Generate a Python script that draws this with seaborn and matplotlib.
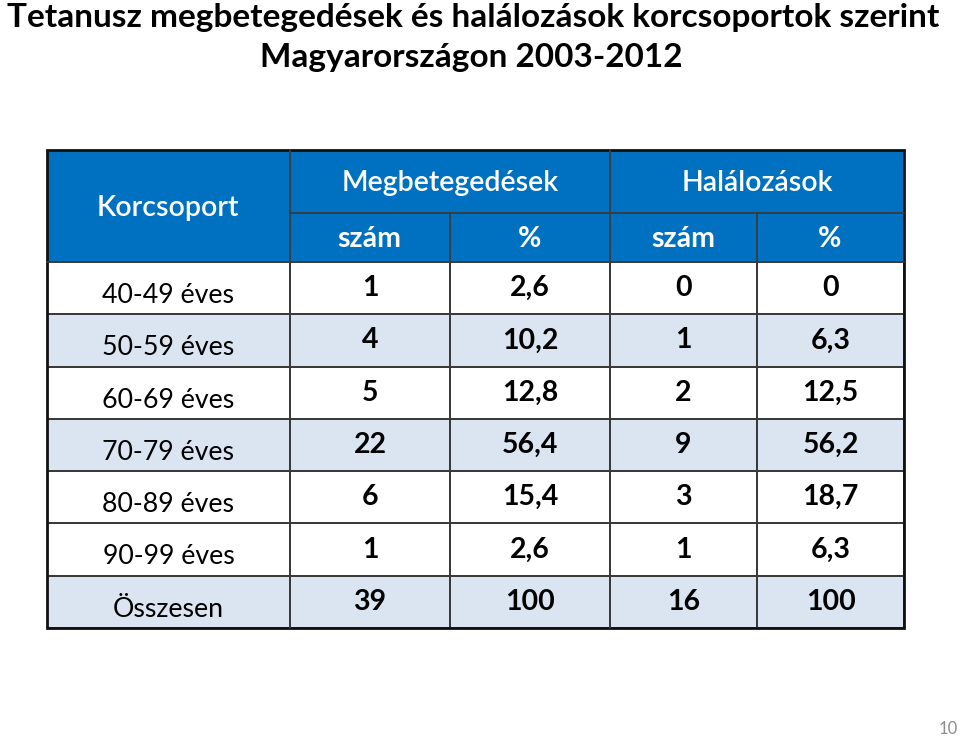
import numpy as np
import matplotlib
matplotlib.use("Agg")
import matplotlib.pyplot as plt
from matplotlib.colors import ListedColormap
from matplotlib.patches import Rectangle
import seaborn as sns

# Adatok
cim_1 = "Tetanusz megbetegedések és halálozások korcsoportok szerint"
cim_2 = "Magyarországon 2003-2012"
korcsoport = ["40-49 éves", "50-59 éves", "60-69 éves", "70-79 éves",
              "80-89 éves", "90-99 éves", "Összesen"]
megbet_szam = [1, 4, 5, 22, 6, 1, 39]
megbet_pct = [2.6, 10.2, 12.8, 56.4, 15.4, 2.6, 100]
halal_szam = [0, 1, 2, 9, 3, 1, 16]
halal_pct = [0, 6.3, 12.5, 56.2, 18.7, 6.3, 100]
sor_szin = [0, 1, 0, 1, 0, 0, 1]   # 1 = világoskék sor
oldalszam = "10"

KEK = "#0070c0"
HALVANY = "#dbe5f1"
VONAL = "#3a3a3a"

sns.set_theme(style="white")
plt.rcParams["font.family"] = ["Lato", "DejaVu Sans"]


def hu(v):
    return f"{v:g}".replace(".", ",")


W, H = 960, 738
fig = plt.figure(figsize=(W / 100, H / 100), dpi=100)
fig.patch.set_facecolor("white")


def px_axes(x0, y0, x1, y1):
    return fig.add_axes([x0 / W, 1 - y1 / H, (x1 - x0) / W, (y1 - y0) / H])


top, bottom = 262, 628
cmap = ListedColormap(["white", HALVANY])
szin = np.array(sor_szin)
szam_kws = {"color": "black", "fontsize": 20.5, "fontweight": "bold"}

# Korcsoport oszlop
ax_a = px_axes(47, top, 290, bottom)
sns.heatmap(szin.reshape(-1, 1), ax=ax_a, cmap=cmap, vmin=0, vmax=1, cbar=False,
            annot=np.array(korcsoport).reshape(-1, 1), fmt="",
            annot_kws={"color": "black", "fontsize": 19.3},
            linewidths=1.3, linecolor=VONAL, xticklabels=False, yticklabels=False)
for t in ax_a.texts:
    x, y = t.get_position()
    t.set_position((x, y + 0.14))

# Megbetegedések
ax_b = px_axes(290, top, 610, bottom)
sns.heatmap(np.column_stack([szin, szin]), ax=ax_b, cmap=cmap, vmin=0, vmax=1, cbar=False,
            annot=np.column_stack([[hu(v) for v in megbet_szam], [hu(v) for v in megbet_pct]]),
            fmt="", annot_kws=szam_kws,
            linewidths=1.3, linecolor=VONAL, xticklabels=False, yticklabels=False)

# Halálozások
ax_c = px_axes(610, top, 904, bottom)
sns.heatmap(np.column_stack([szin, szin]), ax=ax_c, cmap=cmap, vmin=0, vmax=1, cbar=False,
            annot=np.column_stack([[hu(v) for v in halal_szam], [hu(v) for v in halal_pct]]),
            fmt="", annot_kws=szam_kws,
            linewidths=1.3, linecolor=VONAL, xticklabels=False, yticklabels=False)

# Fejléc és keretek pixelkoordinátákban
ov = fig.add_axes([0, 0, 1, 1])
ov.set_xlim(0, W)
ov.set_ylim(H, 0)
ov.axis("off")

ov.add_patch(Rectangle((47, 150), 857, top - 150, facecolor=KEK, edgecolor="none"))
ov.plot([290, 290], [150, bottom], color=VONAL, lw=1.3)
ov.plot([610, 610], [150, bottom], color=VONAL, lw=1.3)
ov.plot([450, 450], [213, top], color=VONAL, lw=1.3)
ov.plot([757, 757], [213, top], color=VONAL, lw=1.3)
ov.plot([290, 904], [213, 213], color=VONAL, lw=1.3)
ov.plot([47, 904], [top, top], color=VONAL, lw=1.3)
ov.add_patch(Rectangle((47, 150), 857, bottom - 150, facecolor="none",
                       edgecolor="#111111", lw=2))

fej = dict(color="white", fontsize=20.5, ha="center", va="center")
ov.text(168, 208, "Korcsoport", fontweight="semibold", **fej)
ov.text(450, 183, "Megbetegedések", fontweight="semibold", **fej)
ov.text(757, 183, "Halálozások", fontweight="semibold", **fej)
ov.text(369, 239, "szám", fontweight="bold", **fej)
ov.text(530, 239, "%", fontweight="bold", **fej)
ov.text(683, 239, "szám", fontweight="bold", **fej)
ov.text(830, 239, "%", fontweight="bold", **fej)

ov.text(473, 17, cim_1, ha="center", va="center", fontsize=24, fontweight="bold", color="black")
ov.text(471, 57, cim_2, ha="center", va="center", fontsize=24, fontweight="bold", color="black")
ov.text(948, 729, oldalszam, ha="center", va="center", fontsize=12, color="#8c8c8c")

fig.savefig("out.png", dpi=100, facecolor="white")
